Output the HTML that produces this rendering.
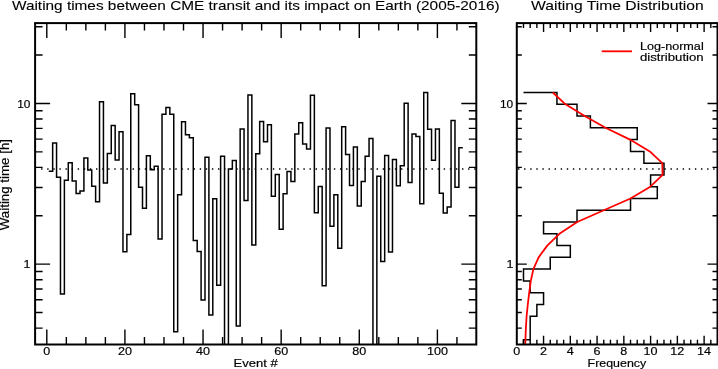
<!DOCTYPE html>
<html><head><meta charset="utf-8"><style>
html,body{margin:0;padding:0;background:#fff;}
body{width:718px;height:369px;overflow:hidden;}
svg{display:block;will-change:transform;}
text{font-family:"Liberation Sans",sans-serif;}
</style></head><body>
<svg width="718" height="369" viewBox="0 0 718 369">
<defs><clipPath id="c1"><rect x="35.1" y="23.1" width="441.2" height="321.4"/></clipPath>
<clipPath id="c2"><rect x="516.8" y="23.1" width="200.7" height="321.4"/></clipPath></defs>
<rect width="718" height="369" fill="#fff"/>
<path clip-path="url(#c1)" d="M48.75 171.20H52.66V143.10H56.56V177.30H60.47V294.10H64.38V180.20H68.28V162.80H72.19V181.00H76.09V193.40H80.00V190.90H83.91V158.00H87.81V170.10H91.72V186.20H95.62V201.80H99.53V101.80H103.44V182.90H107.34V153.60H111.25V125.50H115.16V159.90H119.06V131.80H122.97V251.80H126.87V234.40H130.78V93.80H134.69V104.70H138.59V187.30H142.50V208.30H146.40V155.80H150.31V169.70H154.22V166.30H158.12V239.10H162.03V114.20H165.93V107.40H169.84V114.20H173.75V331.80H177.65V194.80H181.56V121.80H185.46V134.80H189.37V137.70H193.28V240.50H197.18V251.40H201.09V300.00H204.99V157.30H208.90V314.90H212.80V198.80H216.71V285.30H220.62V156.20H224.52V370.00H228.43V168.90H232.34V160.60H236.24V325.90H240.15V128.90H244.05V200.40H247.96V94.90H251.86V244.90H255.77V153.70H259.68V121.60H263.58V141.70H267.49V124.80H271.39V196.30H275.30V174.50H279.21V229.30H283.11V193.70H287.02V171.50H290.92V181.40H294.83V134.00H298.74V122.70H302.64V144.10H306.55V148.90H310.45V95.20H314.36V212.70H318.27V186.50H322.17V285.80H326.08V128.10H329.99V226.30H333.89V194.80H337.80V248.20H341.70V126.70H345.61V154.40H349.51V185.50H353.42V147.00H357.33V205.90H361.23V181.40H365.14V156.30H369.05V138.40H372.95V370.00H376.86V176.30H380.76V261.60H384.67V155.40H388.57V252.10H392.48V159.50H396.39V185.80H400.29V165.80H404.20V103.30H408.11V182.50H412.01V134.00H415.92V136.50H419.82V203.80H423.73V92.60H427.63V129.20H431.54V160.20H435.45V128.90H439.35V193.20H443.26V213.00H447.17V206.90H451.07V120.50H454.98V187.30H458.88V147.80H462.79" fill="none" stroke="#000" stroke-width="1.5" stroke-linejoin="miter" stroke-linecap="butt"/>
<line x1="41.1" x2="476.3" y1="169.0" y2="169.0" stroke="#000" stroke-width="1.4" stroke-dasharray="1.4 4.7"/>
<line x1="518.0" x2="717.5" y1="169.0" y2="169.0" stroke="#000" stroke-width="1.4" stroke-dasharray="1.4 4.7"/>
<path clip-path="url(#c2)" d="M523.49 92.50H556.94V104.28H577.01V116.05H590.39V127.83H637.22V139.60H630.53V151.38H643.91V163.15H663.98V174.93H650.60V186.70H657.29V198.48H630.53V210.25H577.01V222.03H543.56V233.80H556.94V245.58H570.32V257.35H550.25V269.12H523.49V280.90H530.18V292.68H543.56V304.45H536.87V316.23H530.18V328.00H530.18V339.77H523.49V351.55" fill="none" stroke="#000" stroke-width="1.5"/>
<polyline clip-path="url(#c2)" points="552.8,92.5 565.5,104.3 584.7,116.0 605.5,127.8 630.0,139.6 649.8,151.4 662.3,163.2 662.6,174.9 650.3,186.7 630.5,198.5 603.8,210.2 577.2,222.0 559.4,233.8 547.2,245.6 538.6,257.4 533.4,269.1 530.8,280.9 529.2,292.7 527.8,304.5 526.6,316.2 525.9,328.0 525.4,339.8 525.0,351.6" fill="none" stroke="#f00" stroke-width="1.8" stroke-linejoin="round"/>
<path d="M46.80 344.50V329.50M46.80 23.10V38.10M66.33 344.50V337.00M66.33 23.10V30.60M85.86 344.50V337.00M85.86 23.10V30.60M105.39 344.50V337.00M105.39 23.10V30.60M124.92 344.50V329.50M124.92 23.10V38.10M144.45 344.50V337.00M144.45 23.10V30.60M163.98 344.50V337.00M163.98 23.10V30.60M183.51 344.50V337.00M183.51 23.10V30.60M203.04 344.50V329.50M203.04 23.10V38.10M222.57 344.50V337.00M222.57 23.10V30.60M242.10 344.50V337.00M242.10 23.10V30.60M261.63 344.50V337.00M261.63 23.10V30.60M281.16 344.50V329.50M281.16 23.10V38.10M300.69 344.50V337.00M300.69 23.10V30.60M320.22 344.50V337.00M320.22 23.10V30.60M339.75 344.50V337.00M339.75 23.10V30.60M359.28 344.50V329.50M359.28 23.10V38.10M378.81 344.50V337.00M378.81 23.10V30.60M398.34 344.50V337.00M398.34 23.10V30.60M417.87 344.50V337.00M417.87 23.10V30.60M437.40 344.50V329.50M437.40 23.10V38.10M456.93 344.50V337.00M456.93 23.10V30.60M35.10 328.10H42.60M476.30 328.10H468.80M516.80 328.10H521.80M717.50 328.10H712.50M35.10 312.53H42.60M476.30 312.53H468.80M516.80 312.53H521.80M717.50 312.53H712.50M35.10 299.80H42.60M476.30 299.80H468.80M516.80 299.80H521.80M717.50 299.80H712.50M35.10 289.04H42.60M476.30 289.04H468.80M516.80 289.04H521.80M717.50 289.04H712.50M35.10 279.72H42.60M476.30 279.72H468.80M516.80 279.72H521.80M717.50 279.72H712.50M35.10 271.50H42.60M476.30 271.50H468.80M516.80 271.50H521.80M717.50 271.50H712.50M35.10 264.15H50.10M476.30 264.15H461.30M516.80 264.15H526.80M717.50 264.15H707.50M35.10 215.77H42.60M476.30 215.77H468.80M516.80 215.77H521.80M717.50 215.77H712.50M35.10 187.48H42.60M476.30 187.48H468.80M516.80 187.48H521.80M717.50 187.48H712.50M35.10 167.40H42.60M476.30 167.40H468.80M516.80 167.40H521.80M717.50 167.40H712.50M35.10 151.83H42.60M476.30 151.83H468.80M516.80 151.83H521.80M717.50 151.83H712.50M35.10 139.10H42.60M476.30 139.10H468.80M516.80 139.10H521.80M717.50 139.10H712.50M35.10 128.34H42.60M476.30 128.34H468.80M516.80 128.34H521.80M717.50 128.34H712.50M35.10 119.02H42.60M476.30 119.02H468.80M516.80 119.02H521.80M717.50 119.02H712.50M35.10 110.80H42.60M476.30 110.80H468.80M516.80 110.80H521.80M717.50 110.80H712.50M35.10 103.45H50.10M476.30 103.45H461.30M516.80 103.45H526.80M717.50 103.45H707.50M35.10 55.07H42.60M476.30 55.07H468.80M516.80 55.07H521.80M717.50 55.07H712.50M35.10 26.78H42.60M476.30 26.78H468.80M516.80 26.78H521.80M717.50 26.78H712.50M523.49 344.50V339.70M523.49 23.10V27.90M530.18 344.50V339.70M530.18 23.10V27.90M536.87 344.50V339.70M536.87 23.10V27.90M543.56 344.50V335.70M543.56 23.10V31.90M550.25 344.50V339.70M550.25 23.10V27.90M556.94 344.50V339.70M556.94 23.10V27.90M563.63 344.50V339.70M563.63 23.10V27.90M570.32 344.50V335.70M570.32 23.10V31.90M577.01 344.50V339.70M577.01 23.10V27.90M583.70 344.50V339.70M583.70 23.10V27.90M590.39 344.50V339.70M590.39 23.10V27.90M597.08 344.50V335.70M597.08 23.10V31.90M603.77 344.50V339.70M603.77 23.10V27.90M610.46 344.50V339.70M610.46 23.10V27.90M617.15 344.50V339.70M617.15 23.10V27.90M623.84 344.50V335.70M623.84 23.10V31.90M630.53 344.50V339.70M630.53 23.10V27.90M637.22 344.50V339.70M637.22 23.10V27.90M643.91 344.50V339.70M643.91 23.10V27.90M650.60 344.50V335.70M650.60 23.10V31.90M657.29 344.50V339.70M657.29 23.10V27.90M663.98 344.50V339.70M663.98 23.10V27.90M670.67 344.50V339.70M670.67 23.10V27.90M677.36 344.50V335.70M677.36 23.10V31.90M684.05 344.50V339.70M684.05 23.10V27.90M690.74 344.50V339.70M690.74 23.10V27.90M697.43 344.50V339.70M697.43 23.10V27.90M704.12 344.50V335.70M704.12 23.10V31.90M710.81 344.50V339.70M710.81 23.10V27.90" stroke="#000" stroke-width="1.4" fill="none"/>
<rect x="35.10" y="23.10" width="441.20" height="321.40" fill="none" stroke="#000" stroke-width="2"/>
<rect x="516.80" y="23.10" width="200.70" height="321.40" fill="none" stroke="#000" stroke-width="2"/>
<line x1="601.7" x2="632" y1="51.3" y2="51.3" stroke="#f00" stroke-width="1.8"/>
<text x="12.00" y="10.20" font-size="13.5" text-anchor="start" font-family="Liberation Sans, sans-serif" fill="#000" stroke="#000" stroke-width="0.1" textLength="487.60" lengthAdjust="spacingAndGlyphs" >Waiting times between CME transit and its impact on Earth (2005-2016)</text>
<text x="531.10" y="10.20" font-size="13.5" text-anchor="start" font-family="Liberation Sans, sans-serif" fill="#000" stroke="#000" stroke-width="0.1" textLength="172.60" lengthAdjust="spacingAndGlyphs" >Waiting Time Distribution</text>
<text x="233.60" y="366.60" font-size="11.5" text-anchor="start" font-family="Liberation Sans, sans-serif" fill="#000" stroke="#000" stroke-width="0.18" textLength="44.20" lengthAdjust="spacingAndGlyphs" >Event #</text>
<text x="587.60" y="366.50" font-size="11.5" text-anchor="start" font-family="Liberation Sans, sans-serif" fill="#000" stroke="#000" stroke-width="0.18" textLength="58.60" lengthAdjust="spacingAndGlyphs" >Frequency</text>
<text x="639.90" y="50.20" font-size="11.5" text-anchor="start" font-family="Liberation Sans, sans-serif" fill="#000" stroke="#000" stroke-width="0.18" textLength="63.80" lengthAdjust="spacingAndGlyphs" >Log-normal</text>
<text x="639.90" y="61.10" font-size="11.5" text-anchor="start" font-family="Liberation Sans, sans-serif" fill="#000" stroke="#000" stroke-width="0.18" textLength="63.80" lengthAdjust="spacingAndGlyphs" >distribution</text>
<text transform="translate(9.0,230.2) rotate(-90)" x="0" y="0" font-size="12" font-family="Liberation Sans, sans-serif" fill="#000" stroke="#000" stroke-width="0.18" textLength="91.2" lengthAdjust="spacingAndGlyphs">Waiting time [h]</text>
<text x="46.80" y="355.40" font-size="11.3" text-anchor="middle" font-family="Liberation Sans, sans-serif" fill="#000" stroke="#000" stroke-width="0.18" textLength="7.00" lengthAdjust="spacingAndGlyphs" >0</text>
<text x="124.92" y="355.40" font-size="11.3" text-anchor="middle" font-family="Liberation Sans, sans-serif" fill="#000" stroke="#000" stroke-width="0.18" textLength="14.00" lengthAdjust="spacingAndGlyphs" >20</text>
<text x="203.04" y="355.40" font-size="11.3" text-anchor="middle" font-family="Liberation Sans, sans-serif" fill="#000" stroke="#000" stroke-width="0.18" textLength="14.00" lengthAdjust="spacingAndGlyphs" >40</text>
<text x="281.16" y="355.40" font-size="11.3" text-anchor="middle" font-family="Liberation Sans, sans-serif" fill="#000" stroke="#000" stroke-width="0.18" textLength="14.00" lengthAdjust="spacingAndGlyphs" >60</text>
<text x="359.28" y="355.40" font-size="11.3" text-anchor="middle" font-family="Liberation Sans, sans-serif" fill="#000" stroke="#000" stroke-width="0.18" textLength="14.00" lengthAdjust="spacingAndGlyphs" >80</text>
<text x="437.40" y="355.40" font-size="11.3" text-anchor="middle" font-family="Liberation Sans, sans-serif" fill="#000" stroke="#000" stroke-width="0.18" textLength="21.00" lengthAdjust="spacingAndGlyphs" >100</text>
<text x="516.80" y="355.40" font-size="11.3" text-anchor="middle" font-family="Liberation Sans, sans-serif" fill="#000" stroke="#000" stroke-width="0.18" textLength="7.00" lengthAdjust="spacingAndGlyphs" >0</text>
<text x="543.56" y="355.40" font-size="11.3" text-anchor="middle" font-family="Liberation Sans, sans-serif" fill="#000" stroke="#000" stroke-width="0.18" textLength="7.00" lengthAdjust="spacingAndGlyphs" >2</text>
<text x="570.32" y="355.40" font-size="11.3" text-anchor="middle" font-family="Liberation Sans, sans-serif" fill="#000" stroke="#000" stroke-width="0.18" textLength="7.00" lengthAdjust="spacingAndGlyphs" >4</text>
<text x="597.08" y="355.40" font-size="11.3" text-anchor="middle" font-family="Liberation Sans, sans-serif" fill="#000" stroke="#000" stroke-width="0.18" textLength="7.00" lengthAdjust="spacingAndGlyphs" >6</text>
<text x="623.84" y="355.40" font-size="11.3" text-anchor="middle" font-family="Liberation Sans, sans-serif" fill="#000" stroke="#000" stroke-width="0.18" textLength="7.00" lengthAdjust="spacingAndGlyphs" >8</text>
<text x="650.60" y="355.40" font-size="11.3" text-anchor="middle" font-family="Liberation Sans, sans-serif" fill="#000" stroke="#000" stroke-width="0.18" textLength="14.00" lengthAdjust="spacingAndGlyphs" >10</text>
<text x="677.36" y="355.40" font-size="11.3" text-anchor="middle" font-family="Liberation Sans, sans-serif" fill="#000" stroke="#000" stroke-width="0.18" textLength="14.00" lengthAdjust="spacingAndGlyphs" >12</text>
<text x="704.12" y="355.40" font-size="11.3" text-anchor="middle" font-family="Liberation Sans, sans-serif" fill="#000" stroke="#000" stroke-width="0.18" textLength="14.00" lengthAdjust="spacingAndGlyphs" >14</text>
<text x="30.40" y="107.80" font-size="11.3" text-anchor="end" font-family="Liberation Sans, sans-serif" fill="#000" stroke="#000" stroke-width="0.18" textLength="13.20" lengthAdjust="spacingAndGlyphs" >10</text>
<text x="30.60" y="268.20" font-size="11.3" text-anchor="end" font-family="Liberation Sans, sans-serif" fill="#000" stroke="#000" stroke-width="0.18" textLength="7.00" lengthAdjust="spacingAndGlyphs" >1</text>
<text x="513.20" y="107.80" font-size="11.3" text-anchor="end" font-family="Liberation Sans, sans-serif" fill="#000" stroke="#000" stroke-width="0.18" textLength="13.20" lengthAdjust="spacingAndGlyphs" >10</text>
<text x="513.40" y="268.20" font-size="11.3" text-anchor="end" font-family="Liberation Sans, sans-serif" fill="#000" stroke="#000" stroke-width="0.18" textLength="7.00" lengthAdjust="spacingAndGlyphs" >1</text>
</svg>
</body></html>
